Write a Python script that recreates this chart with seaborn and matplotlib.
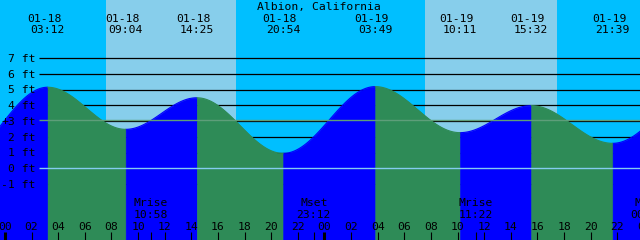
import numpy as np
import pandas as pd
import matplotlib
matplotlib.use("Agg")
import matplotlib.pyplot as plt
import seaborn as sns

# ---------------- data ----------------
title = "Albion, California"

# tide extremes (first and last are just outside the visible window)
tide_dates = ["01-17", "01-18", "01-18", "01-18", "01-18", "01-19", "01-19", "01-19", "01-19", "01-20"]
tide_times = ["20:15", "03:12", "09:04", "14:25", "20:54", "03:49", "10:11", "15:32", "21:39", "04:25"]
tide_heights = [0.40, 5.16, 2.48, 4.49, 0.95, 5.20, 2.27, 3.99, 1.59, 5.20]

sunrise_dates = ["01-18", "01-19"]
sunrise_times = ["07:35", "07:34"]
sunset_dates = ["01-18", "01-19"]
sunset_times = ["17:22", "17:28"]

moon_names = ["Mrise", "Mset", "Mrise", "Mset"]
moon_dates = ["01-18", "01-18", "01-19", "01-20"]
moon_times = ["10:58", "23:12", "11:22", "00:18"]

ft_levels = [-1, 0, 1, 2, 3, 4, 5, 6, 7]
ft_labels = ["-1 ft", "0 ft", "1 ft", "2 ft", "3 ft", "4 ft", "5 ft", "6 ft", "7 ft"]
mean_level = 3.06

hour_ticks = list(range(0, 50, 2))
hour_labels = ["%02d" % (h % 24) for h in hour_ticks]

# ---------------- style ----------------
NIGHT = "#00BFFF"
DAY = "#87CEEB"
RISE = "#0000FF"
FALL = "#2E8B57"
MEAN_C = "#5E9E7A"
DATUM_C = "#84CCF0"
TXT = "#000000"

sns.set_theme(style="white")
plt.rcParams["font.family"] = ["DejaVu Sans Mono", "DejaVu Sans"]
plt.rcParams["text.color"] = TXT
FS = 8.2


def to_hours(d, t):
    day = int(d.split("-")[1]) - 18
    hh, mm = t.split(":")
    return day * 24 + int(hh) + int(mm) / 60.0


# pixel -> data helpers (axes fills whole figure)
PX_PER_H = 13.31
X0 = 5.0
PX_PER_FT = 15.71
Y0 = 168.3


def xh(px):
    return (px - X0) / PX_PER_H


def yf(py):
    return (Y0 - py) / PX_PER_FT


fig = plt.figure(figsize=(6.4, 2.4), dpi=100)
ax = fig.add_axes([0, 0, 1, 1])
ax.set_facecolor(NIGHT)
fig.patch.set_facecolor(NIGHT)
ax.axvspan(xh(0), xh(640), color=NIGHT, zorder=0, lw=0)

for d1, t1, d2, t2 in zip(sunrise_dates, sunrise_times, sunset_dates, sunset_times):
    ax.axvspan(to_hours(d1, t1), to_hours(d2, t2), color=DAY, zorder=0.5, lw=0)

# grid lines behind the water
for lv in ft_levels:
    if lv == 0:
        continue
    ax.hlines(lv, xh(39), xh(640), color="black", lw=0.9, zorder=1)

# tide curve
th = np.array([to_hours(d, t) for d, t in zip(tide_dates, tide_times)])
hv = np.array(tide_heights)
rows = []
ybot = yf(240)
for i in range(len(th) - 1):
    t = np.linspace(th[i], th[i + 1], 80)
    f = (t - th[i]) / (th[i + 1] - th[i])
    h = hv[i] + (hv[i + 1] - hv[i]) * (1 - np.cos(np.pi * f)) / 2
    phase = "rising" if hv[i + 1] > hv[i] else "falling"
    col = RISE if phase == "rising" else FALL
    ax.fill_between(t, h, ybot, color=col, lw=0.4, edgecolor=col, zorder=2)
    for a, b in zip(t, h):
        rows.append({"hour": a, "ft": b, "phase": phase, "seg": i})
df = pd.DataFrame(rows)
sns.lineplot(data=df, x="hour", y="ft", hue="phase", units="seg", estimator=None,
             palette={"rising": RISE, "falling": FALL}, legend=False, lw=0.8, ax=ax, zorder=2.5)
ax.set_xlim(xh(0), xh(640))
ax.set_ylim(yf(240), yf(0))
ax.axis("off")

# mean and datum lines over the water
ax.hlines(mean_level, xh(39), xh(640), color=MEAN_C, lw=1.0, zorder=3)
ax.hlines(0, xh(39), xh(640), color=DATUM_C, lw=1.0, zorder=3)

# y labels
for lv, lab in zip(ft_levels, ft_labels):
    ax.text(xh(35.5), lv - 3.7 / PX_PER_FT, lab, ha="right", va="baseline",
            fontsize=FS, color=TXT, zorder=5)
ax.text(xh(4.5), mean_level - 4.0 / PX_PER_FT, "+", ha="center", va="baseline",
        fontsize=FS, color=TXT, zorder=5)

# title
ax.text(xh(319), yf(10), title, ha="center", va="baseline", fontsize=FS, color=TXT, zorder=5)

# tide event labels
for d, t, x in zip(tide_dates, tide_times, th):
    if xh(0) <= x <= xh(640):
        ax.text(x - 3.5 / PX_PER_H, yf(21.7), d, ha="center", va="baseline", fontsize=FS,
                color=TXT, zorder=5)
        ax.text(x, yf(33.3), t, ha="center", va="baseline", fontsize=FS, color=TXT, zorder=5)

# moon events
for n, d, t in zip(moon_names, moon_dates, moon_times):
    x = to_hours(d, t)
    ax.text(x, yf(206), n, ha="center", va="baseline", fontsize=FS, color=TXT, zorder=5)
    ax.text(x, yf(217.7), t, ha="center", va="baseline", fontsize=FS, color=TXT, zorder=5)
    ax.vlines(x, yf(240), yf(232), color="black", lw=0.8, zorder=5)

# hour ticks and labels
for h, lab in zip(hour_ticks, hour_labels):
    ax.text(h, yf(230), lab, ha="center", va="baseline", fontsize=FS, color=TXT, zorder=5)
    lw = 2.2 if h % 24 == 0 else 0.8
    ax.vlines(h, yf(240), yf(232), color="black", lw=lw, zorder=5)

fig.savefig("out.png", dpi=100, facecolor=NIGHT)
